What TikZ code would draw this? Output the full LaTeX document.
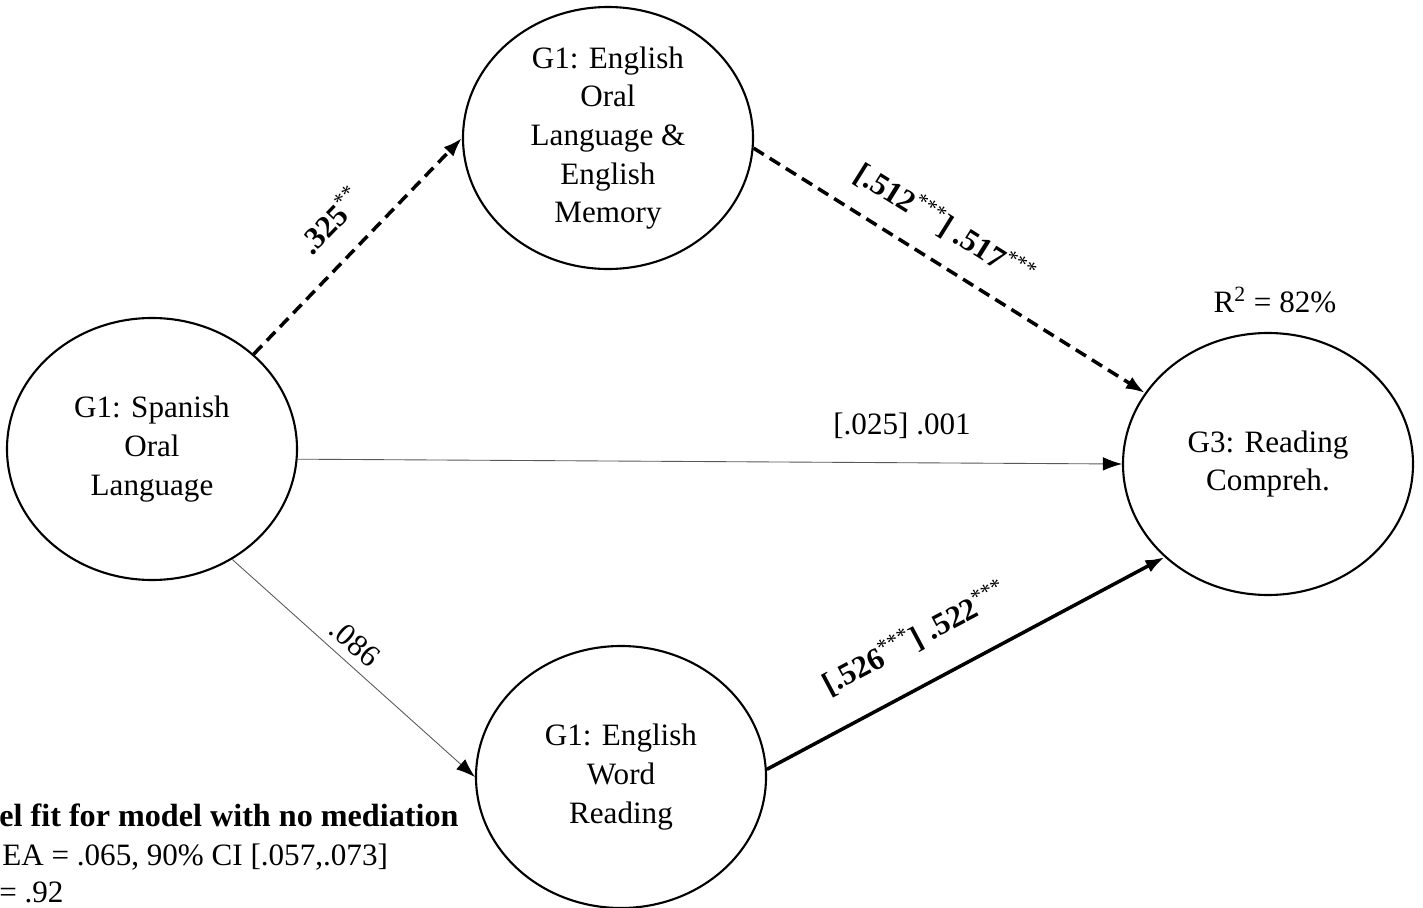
\documentclass[tikz,border=0pt]{standalone}
\usepackage{fontspec}
\setmainfont{Liberation Serif}
\usepackage{tikz}
\usetikzlibrary{positioning}
\usetikzlibrary{shapes.geometric, arrows.meta}
\tikzstyle{construct}=[ellipse,draw,line width=1.2pt,inner sep=0pt,minimum width=5.8cm,minimum height=5.24cm,align=center]
\tikzstyle{path}=[-{Latex[length=0.38cm,width=0.27cm,color=black]},shorten <=0pt]
\tikzstyle{medpath}=[path,dash pattern=on 0.24cm off 0.14cm,line width=2pt]
\tikzstyle{sigpath}=[path,line width=2pt]
\tikzstyle{nspath}=[path,line width=0.5pt,draw=black!65]
\tikzstyle{coef}=[inner sep=1pt]
\newcommand{\stars}[1]{\textsuperscript{\mdseries #1}}

\begin{document}
\begin{tikzpicture}[font=\fontsize{17.7}{22}\selectfont]
		\useasboundingbox (0,0) rectangle (28.46,-18.16);
		\node[construct] (spanish) at (3.04,-8.98)  {G1: Spanish\\Oral\\Language};
		\node[construct] (oral)    at (12.16,-2.76) {G1: English\\Oral\\Language \&\\English\\Memory};
		\node[construct] (word)    at (12.42,-15.54){G1: English\\Word\\Reading};
		\node[construct] (comp)    at (25.36,-9.28) {G3: Reading\\Compreh.};
		\node (rsq) at (25.5,-6.0) {R\textsuperscript{2} = 82\%};

		\draw[medpath] (spanish.43)--(oral.west);
		\draw[medpath] (oral.-4)--(comp.150);
		\draw[nspath]  (spanish.-4)--(comp.west);
		\draw[nspath]  (spanish.-54)--(word.west);
		\draw[sigpath] (word.3)--(comp.222);

		\node[coef,rotate=46]  (aOral) at (6.6,-4.4)   {\textbf{.325}\stars{**}};
		\node[coef,rotate=-32] (bOral) at (18.9,-4.5)  {\textbf{[.512\stars{***}] .517\stars{***}}};
		\node[coef]            (cDir)  at (18.04,-8.52){[.025] .001};
		\node[coef,rotate=-41] (aWord) at (7.1,-12.86) {.086};
		\node[coef,rotate=28]  (bWord) at (18.3,-12.76){\textbf{[.526\stars{***}] .522\stars{***}}};

		\node[anchor=base west,inner sep=0pt,font=\fontsize{18.3}{22}\selectfont] (fitA) at (-0.02,-16.52) {\textbf{el fit for model with no mediation}};
		\node[anchor=base west,inner sep=0pt] (fitB) at (0.04,-17.3)   {EA = .065, 90\% CI [.057,.073]};
		\node[anchor=base west,inner sep=0pt] (fitC) at (-0.02,-18.04) {= .92};
	\end{tikzpicture}
\end{document}
